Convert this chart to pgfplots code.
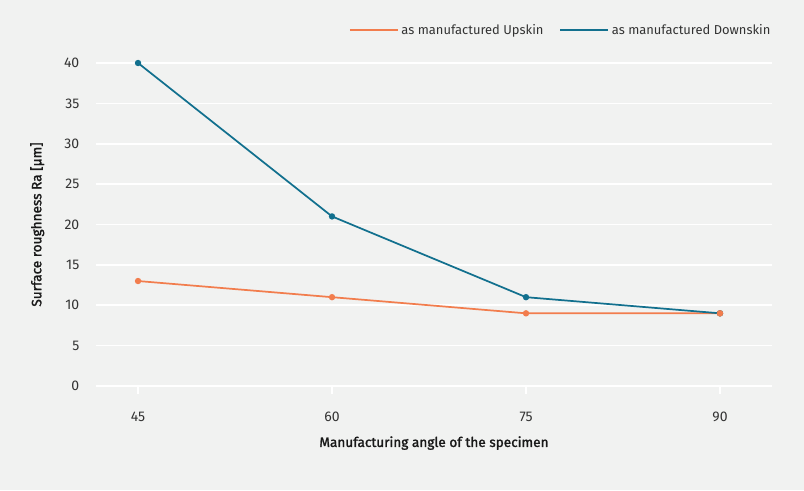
\documentclass[border=0pt]{standalone}
\usepackage{pgfplots}
\pgfplotsset{compat=1.18}
\usepackage{fontspec}
\setmainfont{Fira Sans}
\newfontfamily\medfont[FakeBold=1.6]{Fira Sans}
\definecolor{bg}{HTML}{F1F2F1}
\definecolor{upc}{HTML}{F27D4D}
\definecolor{downc}{HTML}{12708E}
\definecolor{txt}{HTML}{333333}
\begin{document}
\begin{tikzpicture}
\fill[bg] (0,0) rectangle (603pt,367.5pt);
\begin{axis}[
  at={(72pt,78pt)}, anchor=south west,
  scale only axis, width=507pt, height=242.25pt,
  xmin=41.75, xmax=94.02, ymin=0, ymax=40,
  axis line style={draw=none},
  xtick={45,60,75,90}, ytick={0,5,...,40},
  ymajorgrids, grid style={white, line width=1.2pt},
  major tick length=6pt,
  xtick style={white, line width=1.2pt},
  tick align=outside,
  ytick style={draw=none},
  xtick pos=bottom,
  ticklabel style={font=\fontsize{10.5}{12}\selectfont, text=txt},
  /pgf/number format/assume math mode=true,
  xticklabel style={yshift=-10pt},
  yticklabel style={xshift=-3pt},
  xlabel={Manufacturing angle of the specimen},
  ylabel={Surface roughness Ra [µm]},
  label style={font=\fontsize{10.2}{12}\selectfont\medfont, text=black!90},
  xlabel style={yshift=-4pt},
  ylabel style={yshift=8pt},
  legend style={at={(1,1)}, anchor=south east, yshift=16pt, xshift=4pt, draw=none, fill=none,
    font=\fontsize{9.7}{11}\selectfont, text=txt, legend columns=2,
    /tikz/every even column/.append style={column sep=10pt}},
  legend image code/.code={\draw[#1, mark=none, line width=1.3pt] (0pt,0pt) -- (36pt,0pt);},
  clip=false,
]
\addplot[upc, line width=1.3pt, mark=*, mark size=1.7pt] coordinates {(45,13) (60,11) (75,9) (90,9)};
\addlegendentry{as manufactured Upskin}
\addplot[downc, line width=1.3pt, mark=*, mark size=1.7pt] coordinates {(45,40) (60,21) (75,11) (90,9)};
\addlegendentry{as manufactured Downskin}
\addplot[upc, line width=1.3pt, mark=*, mark size=1.7pt, forget plot] coordinates {(90,9)};
\end{axis}
\end{tikzpicture}
\end{document}
